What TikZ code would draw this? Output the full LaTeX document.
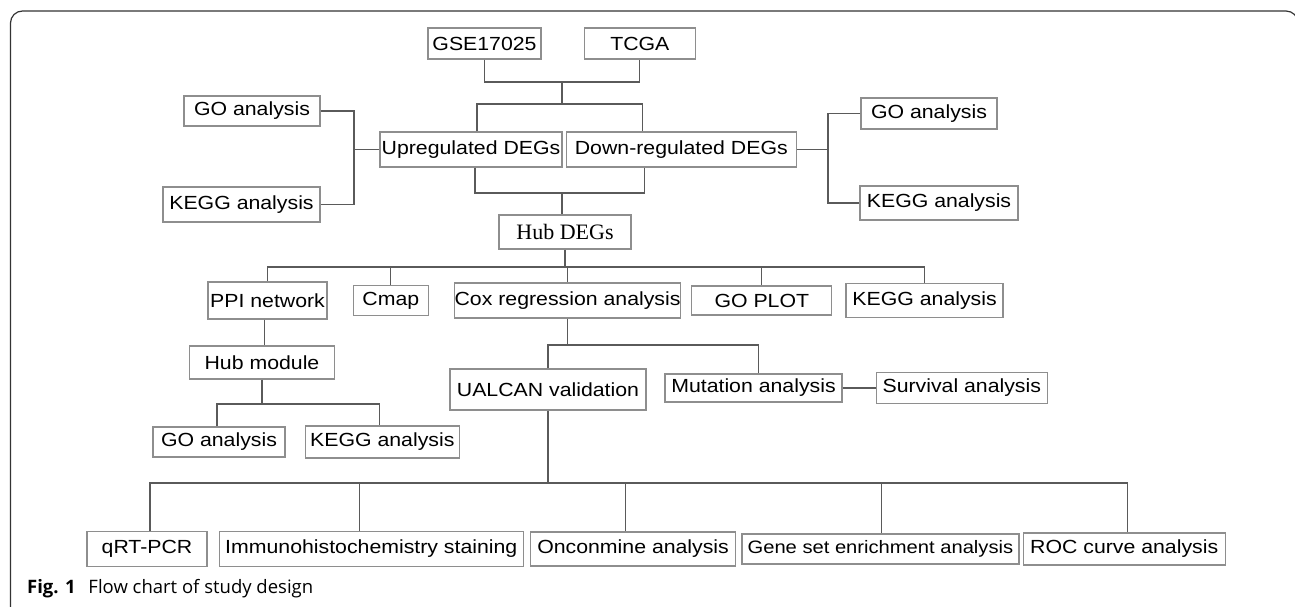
\documentclass[tikz,border=0pt]{standalone}
\usepackage{fontspec}
\setmainfont{Liberation Sans}[FakeStretch=1.12]
\newfontfamily\serifface{Liberation Serif}
\newfontfamily\captionface{Open Sans}
\usetikzlibrary{positioning}
\definecolor{boxgray}{HTML}{8E8E8E}
\definecolor{linegray}{HTML}{5A5A5A}
\definecolor{framegray}{HTML}{333333}
\begin{document}
\begin{tikzpicture}[x=1pt, y=-1pt,
    box/.style={draw=boxgray, line width=1.3pt, inner sep=0pt, font=\fontsize{19}{23}\selectfont},
    link/.style={draw=linegray, line width=1.2pt}]
  \useasboundingbox (0,0) rectangle (1295,607);
  \draw[framegray, line width=1.2pt, rounded corners=12pt] (10.5,610) -- (10.5,11) -- (1298,11) -- (1298,60);

  \node[box, minimum width=113pt, minimum height=31pt] (gse) at (484.5,43.5) {GSE17025};
  \node[box, minimum width=111pt, minimum height=31pt, right=42pt of gse] (tcga) {TCGA};
  \node[box, minimum width=182pt, minimum height=35pt] (up) at (471,149.5) {Upregulated DEGs};
  \node[box, minimum width=230pt, minimum height=35pt, right=3pt of up] (down) {Down-regulated DEGs};
  \node[box, minimum width=136pt, minimum height=30pt] (goL) at (252,111) {GO analysis};
  \node[box, minimum width=157pt, minimum height=35pt] (keggL) at (241.5,204.5) {KEGG analysis};
  \node[box, minimum width=136pt, minimum height=31pt] (goR) at (929,113.5) {GO analysis};
  \node[box, minimum width=158pt, minimum height=34pt] (keggR) at (939,203) {KEGG analysis};
  \node[box, minimum width=132pt, minimum height=34pt, font=\serifface\fontsize{22}{26}\selectfont] (hub) at (565,232) {Hub DEGs};

  \node[box, minimum width=119pt, minimum height=37pt] (ppi) at (267.5,300.5) {PPI network};
  \node[box, minimum width=75pt, minimum height=30pt, right=25pt of ppi] (cmap) {Cmap};
  \node[box, minimum width=225pt, minimum height=35pt, right=25pt of cmap] (cox) {Cox regression analysis};
  \node[box, minimum width=140pt, minimum height=29pt, right=10pt of cox] (goplot) {GO PLOT};
  \node[box, minimum width=157pt, minimum height=34pt, right=13pt of goplot] (keggM) {KEGG analysis};

  \node[box, minimum width=145pt, minimum height=33pt] (module) at (262,362.5) {Hub module};
  \node[box, minimum width=132pt, minimum height=30pt] (goB) at (219,442) {GO analysis};
  \node[box, minimum width=154pt, minimum height=32pt, right=19pt of goB] (keggB) {KEGG analysis};

  \node[box, minimum width=196pt, minimum height=41pt] (ualcan) at (548,389.5) {UALCAN validation};
  \node[box, minimum width=177pt, minimum height=28pt] (mutation) at (753.5,388) {Mutation analysis};
  \node[box, minimum width=171pt, minimum height=31pt, right=33pt of mutation] (survival) {Survival analysis};

  \node[box, minimum width=120pt, minimum height=35pt] (qrt) at (147,549) {qRT-PCR};
  \node[box, minimum width=304pt, minimum height=35pt, right=11pt of qrt] (immuno) {Immunohistochemistry staining};
  \node[box, minimum width=205pt, minimum height=34pt, right=6pt of immuno] (oncon) {Onconmine analysis};
  \node[box, minimum width=277pt, minimum height=30pt, right=5pt of oncon, font=\fontsize{18}{22}\selectfont] (geneset) {Gene set enrichment analysis};
  \node[box, minimum width=202pt, minimum height=32pt, right=3pt of geneset] (roc) {ROC curve analysis};

  \node[anchor=west, inner sep=0pt, font=\captionface\fontsize{18.5}{22}\selectfont] (caption) at (27,589) {\textbf{Fig. 1}\hspace{8pt} Flow chart of study design};

  \coordinate (src) at (562,82);
  \coordinate (split) at (562,104);
  \coordinate (merge) at (562,193);
  \coordinate (leftfork) at (354,149.5);
  \coordinate (rightfork) at (828,149.5);
  \coordinate (hubfork) at (565,267);
  \coordinate (modfork) at (262,404);
  \coordinate (coxfork) at (562,345);
  \coordinate (valfork) at (548,483);

  \draw[link] (gse.south) |- (src) -| (tcga.south);
  \draw[link] (src) -- (split);
  \draw[link] ([xshift=6pt]up.north) |- (split) -| ([xshift=-39pt]down.north);
  \draw[link] ([xshift=4pt]up.south) |- (merge) -| ([xshift=-37pt]down.south);
  \draw[link] (merge) -- (merge |- hub.north);
  \draw[link] (goL.east) -| (leftfork) |- (keggL.east);
  \draw[link] (leftfork) -- (up.west);
  \draw[link] (goR.west) -| (rightfork) |- (keggR.west);
  \draw[link] (rightfork) -- (down.east);

  \draw[link] (hub.south) -- (hubfork);
  \foreach \n in {ppi,cmap,cox,goplot,keggM}
    \draw[link] (hubfork) -| (\n.north);
  \draw[link] ([xshift=-3pt]ppi.south) -- ([xshift=-3pt]ppi.south |- module.north);
  \draw[link] (module.south) -- (modfork);
  \draw[link] ([xshift=-2pt]goB.north) |- (modfork) -| ([xshift=-3pt]keggB.north);

  \draw[link] (cox.south) |- (coxfork);
  \draw[link] (ualcan.north) |- (coxfork) -| ([xshift=5pt]mutation.north);
  \draw[link] (mutation.east) -- (survival.west);

  \draw[link] (ualcan.south) -- (valfork);
  \foreach \n/\s in {qrt/3pt,immuno/-12pt,oncon/-8pt,geneset/1pt,roc/3pt}
    \draw[link] (valfork) -| ([xshift=\s]\n.north);
\end{tikzpicture}
\end{document}
